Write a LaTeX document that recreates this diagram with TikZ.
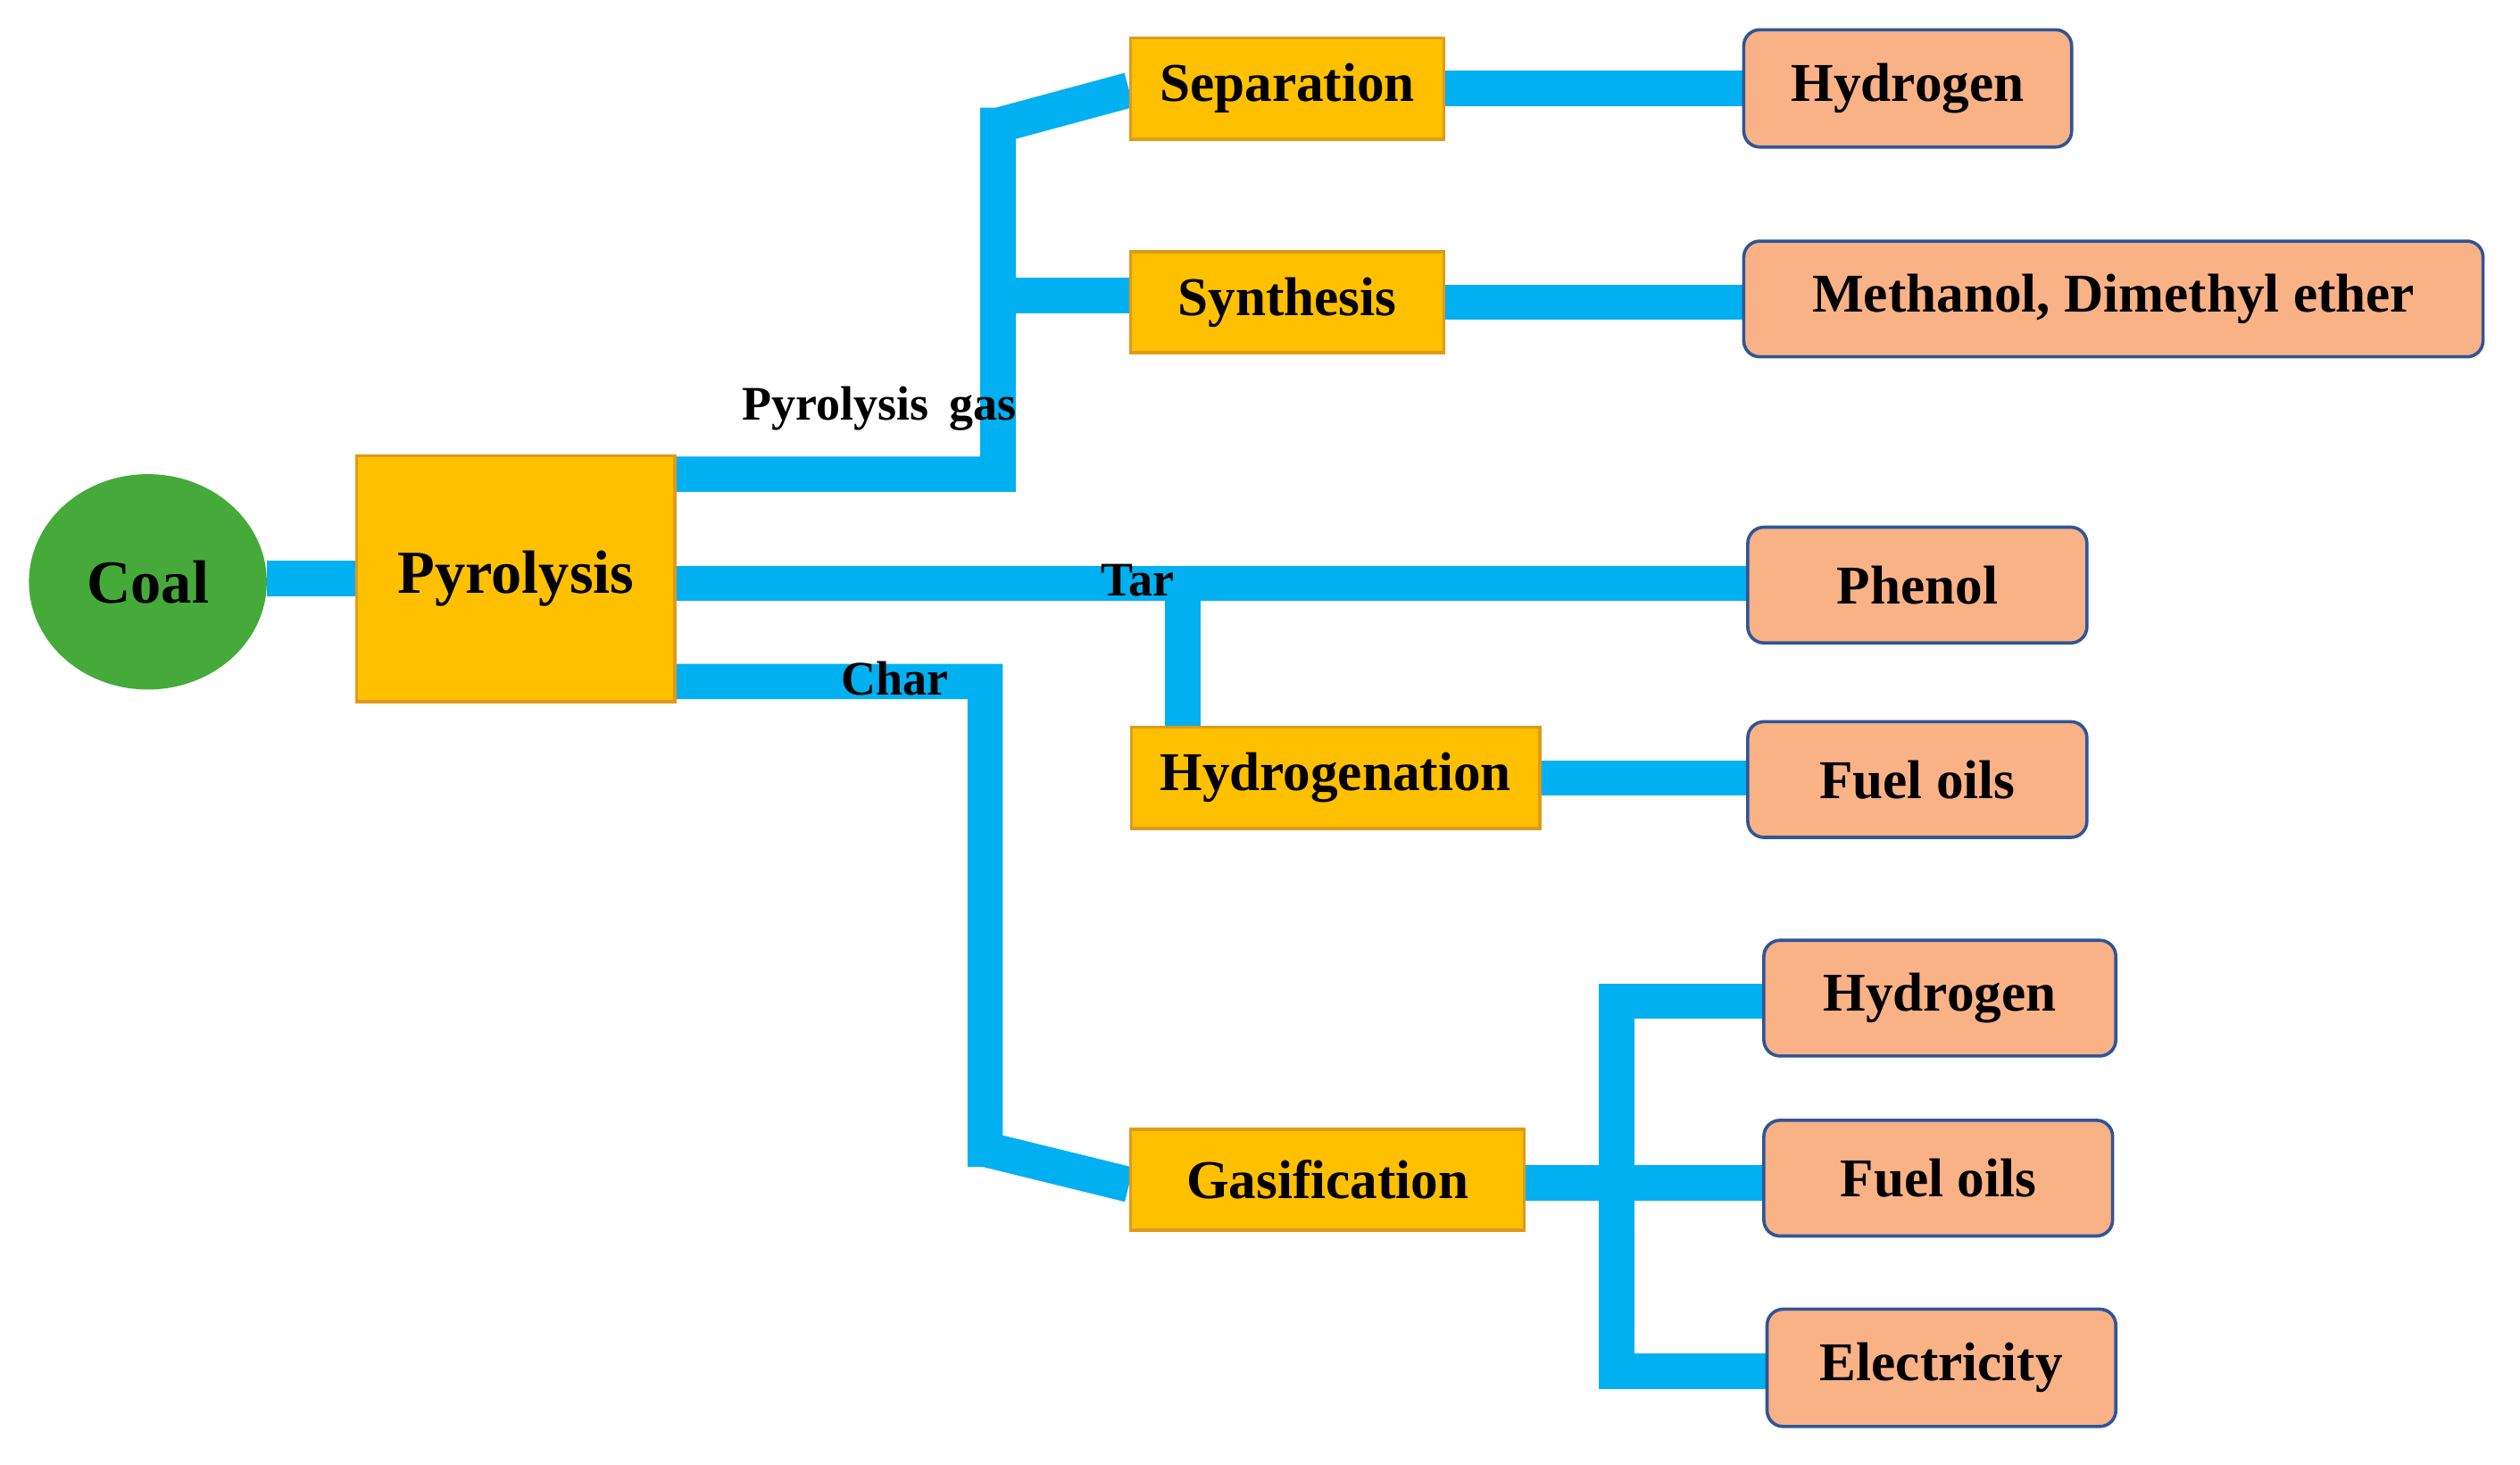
\documentclass[tikz,border=0pt]{standalone}
\usepackage{fontspec}
\setmainfont{Liberation Serif}
\usetikzlibrary{backgrounds,shapes.geometric}
\definecolor{pipec}{HTML}{00B0F0}
\definecolor{proc}{HTML}{FFC000}
\definecolor{procb}{HTML}{E09A1A}
\definecolor{prod}{HTML}{F9B186}
\definecolor{prodb}{HTML}{2F5597}
\definecolor{coalc}{HTML}{45AA3A}
\begin{document}
\begin{tikzpicture}[x=1pt,y=-1pt,
  procbox/.style={draw=procb,line width=2pt,fill=proc,inner sep=0pt,font=\fontsize{34}{40}\selectfont\bfseries},
  prodbox/.style={draw=prodb,line width=2pt,fill=prod,rounded corners=10pt,inner sep=0pt,font=\fontsize{34}{40}\selectfont\bfseries},
  lab/.style={font=\fontsize{30}{36}\selectfont\bfseries},
  pipeline/.style={draw=pipec,line width=22pt,line join=miter}]
\useasboundingbox (0,0) rectangle (1568,911);
\node[ellipse,fill=coalc,minimum width=148,minimum height=134,font=\fontsize{38}{44}\selectfont\bfseries] (coal) at (92,362) {Coal};
\node[procbox,minimum width=198,minimum height=153] (pyr) at (321,360) {\fontsize{38}{44}\selectfont Pyrolysis};
\node[procbox,minimum width=195,minimum height=63] (sep) at (801,55) {Separation};
\node[procbox,minimum width=195,minimum height=63] (syn) at (801,188) {Synthesis};
\node[procbox,minimum width=254,minimum height=63] (hyd) at (831,484) {Hydrogenation};
\node[procbox,minimum width=245,minimum height=63] (gas) at (826,734) {Gasification};
\node[prodbox,minimum width=204,minimum height=73] (h1) at (1187,55) {Hydrogen};
\node[prodbox,minimum width=460,minimum height=72] (meth) at (1315,186) {Methanol, Dimethyl ether};
\node[prodbox,minimum width=211,minimum height=72] (phe) at (1193,364) {Phenol};
\node[prodbox,minimum width=211,minimum height=72] (fo1) at (1193,485) {Fuel oils};
\node[prodbox,minimum width=219,minimum height=72] (h2) at (1207,621) {Hydrogen};
\node[prodbox,minimum width=217,minimum height=72] (fo2) at (1206,733) {Fuel oils};
\node[prodbox,minimum width=217,minimum height=73] (ele) at (1208,851) {Electricity};
\coordinate (g1) at (621,295);
\coordinate (g2) at (621,56);
\coordinate (g3) at (621,184);
\coordinate (t1) at (736,363);
\coordinate (c1) at (613,424);
\coordinate (c2) at (613,737);
\coordinate (e0) at (1017,736);
\coordinate (e1) at (1017,623);
\coordinate (e2) at (1017,853);
\begin{scope}[on background layer]
\draw[pipeline] (coal.east |- 0,360) -- (pyr.west |- 0,360);
\draw[pipeline] (pyr.east |- g1) -- (g1) -- ([yshift=-11]g2) -- ++(0,11) -- (sep.west |- g2);
\draw[pipeline] (g3) -- (syn.west |- g3);
\draw[pipeline] (pyr.east |- t1) -- (phe.west |- t1);
\draw[pipeline] (t1) -- (hyd.north -| t1);
\draw[pipeline] (pyr.east |- c1) -- (c1) -- ([yshift=11]c2) -- ++(0,-11) -- (gas.west |- c2);
\draw[pipeline] (sep.east |- 0,55) -- (h1.west |- 0,55);
\draw[pipeline] (syn.east |- 0,188) -- (meth.west |- 0,188);
\draw[pipeline] (hyd.east |- 0,484) -- (fo1.west |- 0,484);
\draw[pipeline] (gas.east |- e0) -- (fo2.west |- e0);
\draw[pipeline] (h2.west |- e1) -- ([xshift=-11]e1) -- ([xshift=-11]e2) -- (ele.west |- e2);
\end{scope}
\node[lab] (lg) at (547,254) {Pyrolysis\, gas};
\node[lab] (lt) at (708,361) {Tar};
\node[lab] (lc) at (557,422) {Char};
\end{tikzpicture}
\end{document}
